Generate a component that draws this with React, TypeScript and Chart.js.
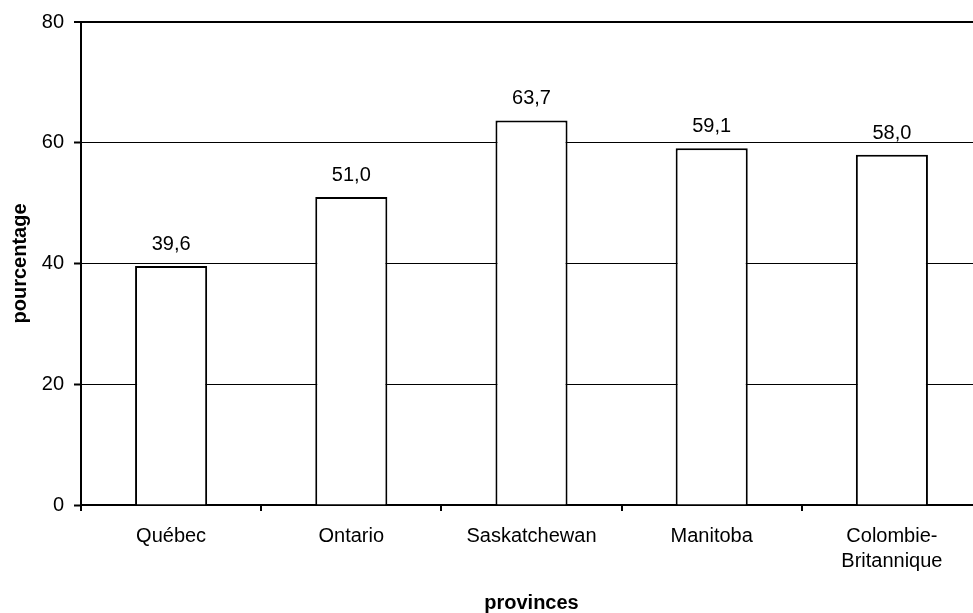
import React, { useEffect, useRef } from "react";
import { Chart, registerables } from "chart.js";

Chart.register(...registerables);

const categories: (string | string[])[] = ["Québec", "Ontario", "Saskatchewan", "Manitoba", ["Colombie-", "Britannique"]];
const values: number[] = [39.6, 51.0, 63.7, 59.1, 58.0];
const yTicks: number[] = [0, 20, 40, 60, 80];
const yTitle = "pourcentage";
const xTitle = "provinces";

const FONT = '"Liberation Sans", Arial, Helvetica, sans-serif';

const valueLabels = {
  id: "valueLabels",
  afterDatasetsDraw(chart: any) {
    const ctx = chart.ctx;
    const meta = chart.getDatasetMeta(0);
    ctx.save();
    ctx.font = `20px ${FONT}`;
    ctx.fillStyle = "#000";
    ctx.textAlign = "center";
    ctx.textBaseline = "alphabetic";
    meta.data.forEach((bar: any, i: number) => {
      const v = values[i];
      ctx.fillText(v.toFixed(1).replace(".", ","), bar.x, bar.y - 16);
    });
    ctx.restore();
  },
};

export default function App() {
  const ref = useRef<HTMLCanvasElement | null>(null);
  useEffect(() => {
    if (!ref.current) return;
    const chart = new Chart(ref.current, {
      type: "bar",
      data: {
        labels: categories,
        datasets: [
          {
            data: values,
            backgroundColor: "#ffffff",
            borderColor: "#000000",
            borderWidth: 2,
            barPercentage: 0.4,
            categoryPercentage: 1,
          },
        ],
      },
      options: {
        responsive: false,
        animation: false,
        layout: { padding: { top: 21, right: 8, left: 0, bottom: 0 } },
        plugins: { legend: { display: false }, tooltip: { enabled: false } },
        scales: {
          x: {
            afterFit: (s: any) => {
              s.height = 108;
            },
            grid: {
              display: true,
              drawOnChartArea: false,
              offset: true,
              tickLength: 6,
              color: "#000",
              lineWidth: 2,
            },
            border: { display: true, color: "#000", width: 2 },
            ticks: {
              color: "#000",
              font: { family: FONT, size: 20, lineHeight: 1.25 },
              padding: 13,
              maxRotation: 0,
              autoSkip: false,
            },
            title: {
              display: true,
              text: xTitle,
              color: "#000",
              font: { family: FONT, size: 20, weight: "bold", lineHeight: 1.2 },
              padding: { top: 0, bottom: -2 },
            },
          },
          y: {
            min: yTicks[0],
            max: yTicks[yTicks.length - 1],
            afterFit: (s: any) => {
              s.width = 81;
            },
            afterBuildTicks: (s: any) => {
              s.ticks = yTicks.map((v) => ({ value: v }));
            },
            grid: {
              color: "#000",
              lineWidth: (c: any) => (c.tick && c.tick.value === 80 ? 2 : 1),
              tickLength: 7,
              tickWidth: 2,
              tickColor: "#000",
            },
            border: { display: true, color: "#000", width: 2 },
            ticks: {
              color: "#000",
              font: { family: FONT, size: 20 },
              padding: 10,
              stepSize: 20,
            },
            title: {
              display: true,
              text: yTitle,
              color: "#000",
              font: { family: FONT, size: 20, weight: "bold", lineHeight: 1.2 },
              padding: { top: 8, bottom: 0 },
            },
          },
        },
      },
      plugins: [valueLabels],
    });
    return () => chart.destroy();
  }, []);
  return (
    <div
      style={{
        position: "fixed",
        left: 0,
        top: 0,
        width: 973,
        height: 613,
        overflow: "hidden",
        background: "#fff",
      }}
    >
      <canvas ref={ref} width={990} height={613} style={{ display: "block" }} />
    </div>
  );
}
